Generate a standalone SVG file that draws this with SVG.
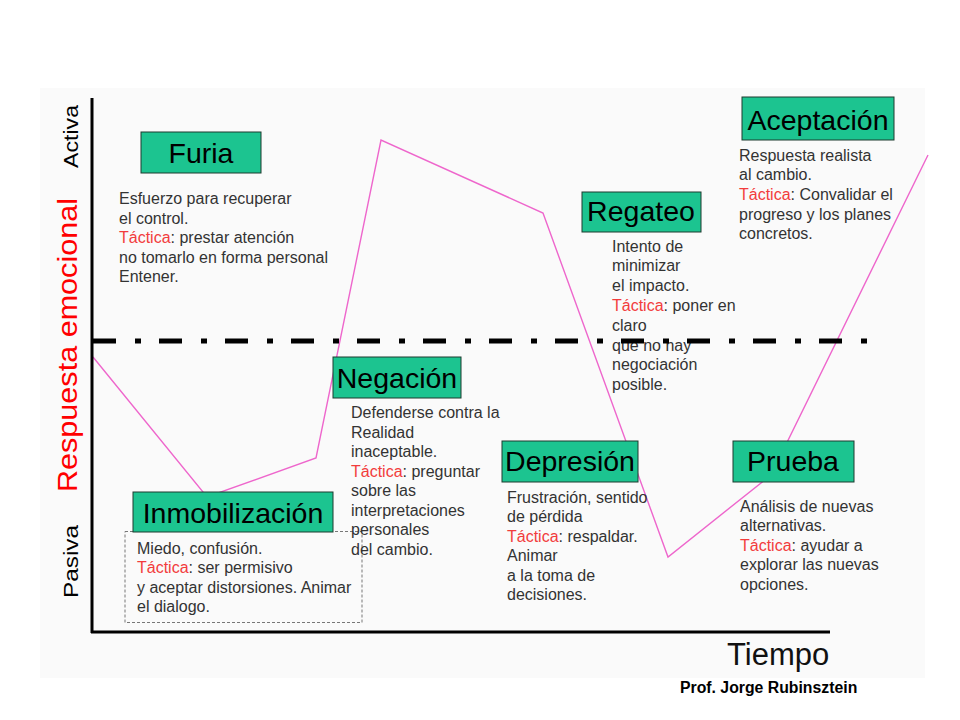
<svg xmlns="http://www.w3.org/2000/svg" width="960" height="720" viewBox="0 0 960 720">
<style>
.bg{fill:#fafafa}
.box{fill:#1cc490;stroke:#1d3b2f;stroke-width:1}
.title{font-family:"Liberation Sans",Arial,sans-serif;font-size:28.5px;fill:#000;text-anchor:middle}
.body{font-family:"Liberation Sans",Arial,sans-serif;font-size:16px;fill:#333}
.red{fill:#f23c3c}
.axis{stroke:#000;stroke-width:3;fill:none}
.lbl{font-family:"Liberation Sans",Arial,sans-serif;font-size:20px;fill:#000}
</style>
<rect class="bg" x="40" y="88" width="885" height="590"/>

<g id="connectors">
<polyline id="curve" points="93,357 207,497 316,458 381,140 543,213 668,557 771,475 928,155" fill="none" stroke="#ee66cc" stroke-width="1.4"/>
</g>

<g id="furia">
<rect class="box" x="141" y="132" width="120" height="41"/>
<text class="title" x="201" y="163">Furia</text>
<text class="body" x="119" y="204">Esfuerzo para recuperar</text>
<text class="body" x="119" y="223.5">el control.</text>
<text class="body" x="119" y="243"><tspan class="red">Táctica</tspan>: prestar atención</text>
<text class="body" x="119" y="262.5">no tomarlo en forma personal</text>
<text class="body" x="119" y="282">Entener.</text>
</g>

<g id="inmobilizacion">
<rect x="125" y="531.5" width="237" height="91" fill="none" stroke="#777" stroke-width="1" stroke-dasharray="3 2"/>
<rect class="box" x="133" y="492" width="200" height="40"/>
<text class="title" x="233" y="523">Inmobilización</text>
<text class="body" x="137" y="554">Miedo, confusión.</text>
<text class="body" x="137" y="573.3"><tspan class="red">Táctica</tspan>: ser permisivo</text>
<text class="body" x="137" y="592.6">y aceptar distorsiones. Animar</text>
<text class="body" x="137" y="611.9">el dialogo.</text>
</g>

<g id="negacion">
<rect class="box" x="333" y="357" width="128" height="41"/>
<text class="title" x="397" y="388">Negación</text>
<text class="body" x="351" y="418">Defenderse contra la</text>
<text class="body" x="351" y="437.5">Realidad</text>
<text class="body" x="351" y="457">inaceptable.</text>
<text class="body" x="351" y="476.5"><tspan class="red">Táctica</tspan>: preguntar</text>
<text class="body" x="351" y="496">sobre las</text>
<text class="body" x="351" y="515.5">interpretaciones</text>
<text class="body" x="351" y="535">personales</text>
<text class="body" x="351" y="554.5">del cambio.</text>
</g>

<g id="regateo">
<rect class="box" x="582" y="192" width="119" height="40"/>
<text class="title" x="641" y="221">Regateo</text>
<text class="body" x="612" y="251.5">Intento de</text>
<text class="body" x="612" y="271.3">minimizar</text>
<text class="body" x="612" y="291.1">el impacto.</text>
<text class="body" x="612" y="310.9"><tspan class="red">Táctica</tspan>: poner en</text>
<text class="body" x="612" y="330.7">claro</text>
<text class="body" x="612" y="350.5">que no hay</text>
<text class="body" x="612" y="370.3">negociación</text>
<text class="body" x="612" y="390.1">posible.</text>
</g>

<g id="depresion">
<rect class="box" x="502" y="441" width="136" height="41"/>
<text class="title" x="570" y="470.5">Depresión</text>
<text class="body" x="507" y="502.5">Frustración, sentido</text>
<text class="body" x="507" y="522">de pérdida</text>
<text class="body" x="507" y="541.5"><tspan class="red">Táctica</tspan>: respaldar.</text>
<text class="body" x="507" y="561">Animar</text>
<text class="body" x="507" y="580.5">a la toma de</text>
<text class="body" x="507" y="600">decisiones.</text>
</g>

<g id="prueba">
<rect class="box" x="733" y="441" width="121" height="41"/>
<text class="title" x="793" y="471">Prueba</text>
<text class="body" x="740" y="511.5">Análisis de nuevas</text>
<text class="body" x="740" y="531">alternativas.</text>
<text class="body" x="740" y="550.5"><tspan class="red">Táctica</tspan>: ayudar a</text>
<text class="body" x="740" y="570">explorar las nuevas</text>
<text class="body" x="740" y="589.5">opciones.</text>
</g>

<g id="aceptacion">
<rect class="box" x="742" y="97" width="152" height="43"/>
<text class="title" x="818" y="130">Aceptación</text>
<text class="body" x="739" y="160.5">Respuesta realista</text>
<text class="body" x="739" y="180.2">al cambio.</text>
<text class="body" x="739" y="199.9"><tspan class="red">Táctica</tspan>: Convalidar el</text>
<text class="body" x="739" y="219.6">progreso y los planes</text>
<text class="body" x="739" y="239.3">concretos.</text>
</g>

<g id="axes">
<line class="axis" x1="92" y1="98" x2="92" y2="633"/>
<line class="axis" x1="91" y1="632" x2="830" y2="632"/>
<line x1="93" y1="341" x2="868" y2="341" stroke="#000" stroke-width="5" stroke-dasharray="23 19 6 18"/>
<text class="lbl" transform="translate(78,168) rotate(-90)" textLength="63" lengthAdjust="spacingAndGlyphs">Activa</text>
<text class="lbl" transform="translate(78,598) rotate(-90)" textLength="73" lengthAdjust="spacingAndGlyphs">Pasiva</text>
<text transform="translate(77,492) rotate(-90)" font-family="Liberation Sans,Arial,sans-serif" font-size="27" fill="#ff0000" textLength="294" lengthAdjust="spacingAndGlyphs">Respuesta emocional</text>
<text x="727" y="665" font-family="Liberation Sans,Arial,sans-serif" font-size="31" fill="#111">Tiempo</text>
<text x="680" y="693" font-family="Liberation Sans,Arial,sans-serif" font-size="15.8" font-weight="bold" fill="#000">Prof. Jorge Rubinsztein</text>
</g>
</svg>
